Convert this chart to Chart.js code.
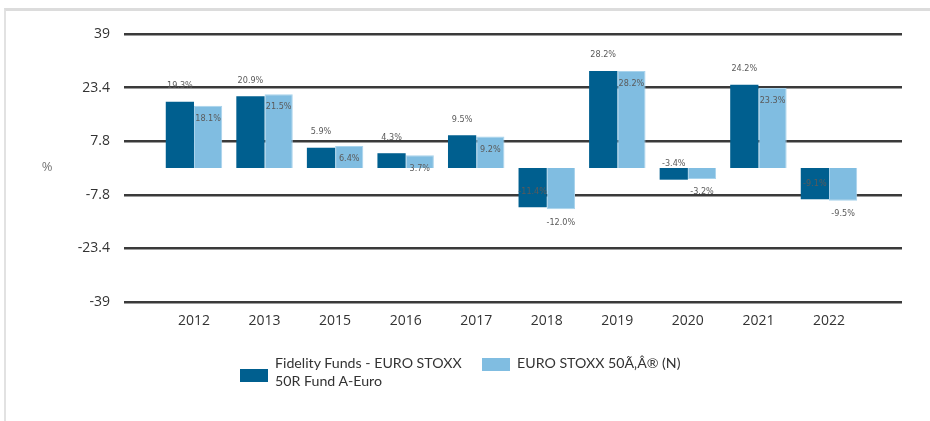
<!DOCTYPE html>
<html>
<head>
<meta charset="utf-8">
<script src="https://cdn.jsdelivr.net/npm/chart.js@4.4.1/dist/chart.umd.min.js"></script>
<style>
  html, body { margin:0; padding:0; background:#fff; }
  #wrap { position:relative; width:930px; height:421px; overflow:hidden; }
  #frame { position:absolute; left:4px; top:8px; width:930px; height:420px;
           border-top:3px solid #dcdcdc; border-left:2px solid #e2e2e2; box-sizing:border-box; }
  canvas { position:absolute; left:0; top:0; }
  .leg { position:absolute; font-family:'Lato','Open Sans',sans-serif; font-size:14.2px; color:#333; line-height:18px; }
  .box { position:absolute; width:28px; height:13px; }
</style>
</head>
<body>
<div id="wrap">
  <div id="frame"></div>
  <canvas id="c" width="930" height="421"></canvas>
  <div class="box" style="left:240px;top:369px;background:#005f8f"></div>
  <div class="leg" style="left:275px;top:354px;width:205px;">Fidelity Funds - EURO STOXX<br>50R Fund A-Euro</div>
  <div class="box" style="left:482px;top:358px;background:#80bde1"></div>
  <div class="leg" style="left:517px;top:354px;">EURO STOXX 50Ã‚Â® (N)</div>
</div>
<script>
const categories = ['2012','2013','2015','2016','2017','2018','2019','2020','2021','2022'];
const fundValues = [19.3, 20.9, 5.9, 4.3, 9.5, -11.4, 28.2, -3.4, 24.2, -9.1];
const benchValues = [18.1, 21.5, 6.4, 3.7, 9.2, -12.0, 28.2, -3.2, 23.3, -9.5];
const yTicks = [-39, -23.4, -7.8, 7.8, 23.4, 39];
const seriesNames = ['Fidelity Funds - EURO STOXX 50R Fund A-Euro', 'EURO STOXX 50Ã‚Â® (N)'];

const toPoints = arr => arr.map((v, i) => ({ x: i, y: v }));

const labelPlugin = {
  id: 'valueLabels',
  afterDatasetsDraw(chart) {
    const ctx = chart.ctx;
    const y = chart.scales.y;
    ctx.save();
    ctx.font = '9px "DejaVu Sans Condensed", "Open Sans", sans-serif';
    ctx.fillStyle = '#5a5a5a';
    ctx.textAlign = 'center';
    ctx.textBaseline = 'middle';
    chart.data.datasets.forEach((ds, di) => {
      const meta = chart.getDatasetMeta(di);
      meta.data.forEach((bar, i) => {
        const v = ds.data[i].y;
        const py = y.getPixelForValue(v);
        const off = di === 0 ? -16 : 13;
        ctx.fillText(v.toFixed(1) + '%', bar.x, py + off);
      });
    });
    ctx.font = '13px "Open Sans", sans-serif';
    ctx.fillStyle = '#777';
    ctx.fillText('%', 47, y.getPixelForValue(0) - 1);
    ctx.restore();
  }
};

new Chart(document.getElementById('c'), {
  type: 'bar',
  data: {
    datasets: [
      { label: seriesNames[0], data: toPoints(fundValues), backgroundColor: '#005f8f',
        categoryPercentage: 0.8, barPercentage: 1.0 },
      { label: seriesNames[1], data: toPoints(benchValues), backgroundColor: '#80bde1',
        borderColor: '#a8d3ec', borderWidth: 1,
        categoryPercentage: 0.8, barPercentage: 1.0 }
    ]
  },
  options: {
    responsive: false,
    animation: false,
    layout: { padding: { left: 0, right: 28, top: 34, bottom: 0 } },
    plugins: { legend: { display: false }, tooltip: { enabled: false } },
    scales: {
      x: {
        type: 'linear',
        offset: false,
        min: -0.992,
        max: 10.035,
        grid: { display: false, drawTicks: false, offset: false },
        border: { display: false },
        afterBuildTicks: s => { s.ticks = categories.map((c, i) => ({ value: i })); },
        afterFit: s => { s.height = 119; },
        ticks: {
          padding: 11,
          autoSkip: false,
          maxRotation: 0,
          color: '#333',
          font: { family: 'Open Sans', size: 14 },
          callback: v => categories[v]
        }
      },
      y: {
        min: -39,
        max: 39,
        afterBuildTicks: s => { s.ticks = yTicks.map(v => ({ value: v })); },
        afterFit: s => { s.width = 124; },
        grid: { color: '#3a3a3a', lineWidth: 2.5, drawTicks: false },
        border: { display: false },
        ticks: {
          padding: 14,
          color: '#333',
          font: { family: 'Open Sans', size: 14 },
          callback: v => String(v)
        }
      }
    }
  },
  plugins: [labelPlugin]
});
</script>
</body>
</html>
